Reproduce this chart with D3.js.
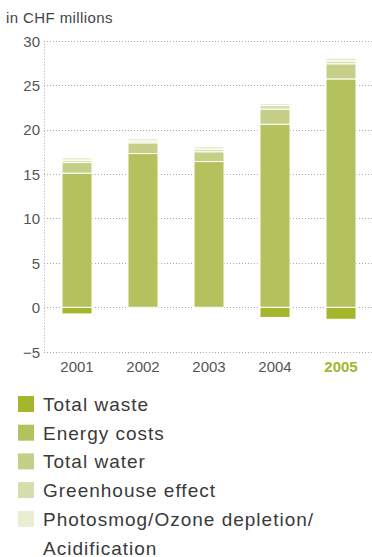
<!DOCTYPE html>
<html><head><meta charset="utf-8">
<script src="https://cdn.jsdelivr.net/npm/d3@7"></script>
<style>body{margin:0;background:#fff}svg{display:block}</style>
</head><body>
<script>
const years = ["2001","2002","2003","2004","2005"];
const seriesNames = ["Total waste","Energy costs","Total water","Greenhouse effect","Photosmog/Ozone depletion/Acidification"];
const totalWaste = [-0.75, 0, 0, -1.15, -1.35];
const energyCosts = [15.1, 17.3, 16.4, 20.6, 25.7];
const totalWater = [1.2, 1.2, 1.1, 1.7, 1.7];
const greenhouse = [0.25, 0.2, 0.3, 0.4, 0.3];
const photosmog = [0.3, 0.3, 0.3, 0.25, 0.35];
const yTicks = [-5, 0, 5, 10, 15, 20, 25, 30];
const colors = ["#a3b62c","#b4c25e","#c5cf88","#d6dfab","#e9eed2"];

const W = 372, H = 557;
const FONT = "'Liberation Sans', Arial, Helvetica, sans-serif";
const svg = d3.select("body").append("svg").attr("width", W).attr("height", H)
  .style("font-family", FONT);

const x = d3.scaleBand().domain(years).range([44, 374]);
const y = d3.scaleLinear().domain([-5, 30]).range([351.7, 40.7]);
const barW = 30;

// grid
svg.append("g").selectAll("line").data(yTicks).join("line")
  .attr("x1", 44).attr("x2", W).attr("y1", d => Math.round(y(d)) + 0.5).attr("y2", d => Math.round(y(d)) + 0.5)
  .attr("stroke", "#aaa").attr("stroke-width", 1).attr("stroke-dasharray", "1,2");
svg.append("line").attr("x1", 44.5).attr("x2", 44.5).attr("y1", y(30)).attr("y2", y(-5))
  .attr("stroke", "#aaa").attr("stroke-dasharray", "1,2");

// y labels
const yAxis = d3.axisLeft(y).tickValues(yTicks).tickSize(0).tickPadding(0).tickFormat(d3.format("d"));
const ga = svg.append("g").attr("transform", "translate(40,0)").call(yAxis);
ga.select(".domain").remove();
ga.selectAll("text").attr("font-size", 15).attr("fill", "#555").attr("font-family", FONT).attr("dy", "0.36em");

// x labels
const xAxis = d3.axisBottom(x).tickSize(0).tickPadding(0);
const gx = svg.append("g").attr("transform", "translate(0,360)").call(xAxis);
gx.select(".domain").remove();
gx.selectAll("text").attr("font-size", 15).attr("font-family", FONT)
  .attr("fill", d => d === "2005" ? "#9db82f" : "#555")
  .attr("font-weight", d => d === "2005" ? "bold" : "normal")
  .attr("dy", "0.8em");

// stacked bars
const posSeries = [energyCosts, totalWater, greenhouse, photosmog];
const g = svg.append("g");
years.forEach((yr, i) => {
  const cx = x(yr) + x.bandwidth() / 2;
  if (totalWaste[i] < 0) {
    g.append("rect").attr("x", cx - barW / 2).attr("width", barW)
      .attr("y", y(0)).attr("height", y(totalWaste[i]) - y(0))
      .attr("fill", colors[0]).attr("stroke", "#fff").attr("stroke-width", 1);
  }
  let base = 0;
  posSeries.forEach((s, k) => {
    const v = s[i];
    g.append("rect").attr("x", cx - barW / 2).attr("width", barW)
      .attr("y", y(base + v)).attr("height", y(base) - y(base + v))
      .attr("fill", colors[k + 1]).attr("stroke", "#fff").attr("stroke-width", 1);
    base += v;
  });
});

// title
svg.append("text").attr("x", 6).attr("y", 23).attr("font-size", 15).attr("fill", "#444")
  .attr("letter-spacing", "0.4px").text("in CHF millions");

// legend
const legendLines = [["Total waste"],["Energy costs"],["Total water"],["Greenhouse effect"],["Photosmog/Ozone depletion/","Acidification"]];
const lg = svg.append("g");
legendLines.forEach((lines, i) => {
  const top = 396 + i * 28.7;
  lg.append("rect").attr("x", 18).attr("y", top).attr("width", 16).attr("height", 16).attr("fill", colors[i]);
  lines.forEach((t, j) => {
    lg.append("text").attr("x", 43).attr("y", top + 15 + j * 28.7).attr("font-size", 19)
      .attr("letter-spacing", "1px").attr("fill", "#3a3a3a").text(t);
  });
});
</script>
</body></html>
